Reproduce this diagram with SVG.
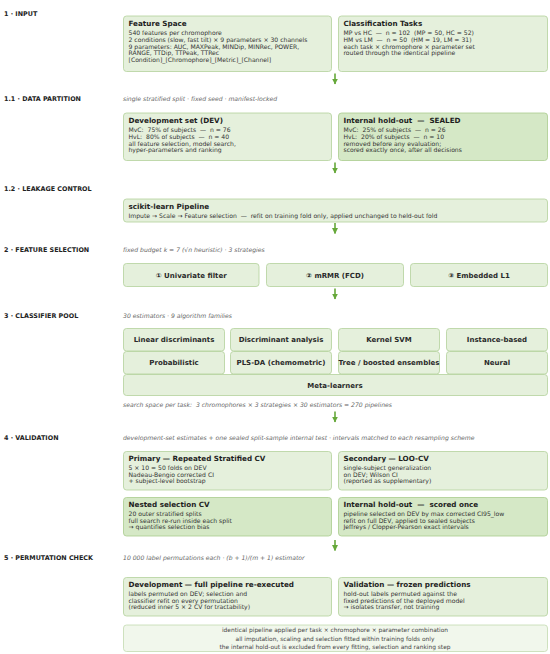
<svg xmlns="http://www.w3.org/2000/svg" width="550" height="654" viewBox="0 0 550 654">
<defs>
<style>
text{font-family:"DejaVu Sans","Liberation Sans",sans-serif;white-space:pre;}
.h{font-size:6.4px;font-weight:bold;fill:#222;}
.sub{font-size:6.1px;font-style:italic;fill:#666;}
.t{font-size:7.2px;font-weight:bold;fill:#1e1e1e;}
.b{font-size:6.1px;fill:#333;}
.c{font-size:7px;font-weight:bold;fill:#2a2a2a;text-anchor:middle;}
.n{font-size:5.9px;fill:#444;text-anchor:middle;}
.box{fill:#e5f0dc;stroke:#b3d19a;stroke-width:0.8;}
.dark{fill:#d5e8c6;stroke:#a9cb8e;stroke-width:0.8;}
.note{fill:#f1f7ec;stroke:#c3dbb0;stroke-width:0.8;}
.arr{stroke:#66a83a;stroke-width:1.6;fill:none;}
</style>
<marker id="ah" viewBox="0 0 10 10" refX="9" refY="5" markerWidth="6" markerHeight="6" orient="auto" markerUnits="userSpaceOnUse">
<path d="M0,0 L10,5 L0,10 Z" fill="#66a83a"/>
</marker>
</defs>
<rect width="550" height="654" fill="#ffffff"/>

<g id="headings">
<text class="h" x="4" y="16">1 · INPUT</text>
<text class="h" x="4" y="101">1.1 · DATA PARTITION</text>
<text class="sub" x="123" y="101">single stratified split · fixed seed · manifest-locked</text>
<text class="h" x="4" y="191">1.2 · LEAKAGE CONTROL</text>
<text class="h" x="4" y="251.5">2 · FEATURE SELECTION</text>
<text class="sub" x="123" y="251.5">fixed budget k = 7 (√n heuristic) · 3 strategies</text>
<text class="h" x="4" y="317.5">3 · CLASSIFIER POOL</text>
<text class="sub" x="123" y="317.5">30 estimators · 9 algorithm families</text>
<text class="sub" x="123" y="407">search space per task:  3 chromophores × 3 strategies × 30 estimators = 270 pipelines</text>
<text class="h" x="4" y="440">4 · VALIDATION</text>
<text class="sub" x="123" y="440">development-set estimates + one sealed split-sample internal test · intervals matched to each resampling scheme</text>
<text class="h" x="4" y="560">5 · PERMUTATION CHECK</text>
<text class="sub" x="123" y="560">10 000 label permutations each · (b + 1)/(m + 1) estimator</text>
</g>

<g id="feature-space">
<rect class="box" x="123.5" y="16" width="208" height="55.5" rx="3"/>
<text class="t" x="128.5" y="26">Feature Space</text>
<text class="b" x="128.5" y="35.3">540 features per chromophore</text>
<text class="b" x="128.5" y="42">2 conditions (slow, fast tilt) × 9 parameters × 30 channels</text>
<text class="b" x="128.5" y="48.7">9 parameters: AUC, MAXPeak, MINDip, MINRec, POWER,</text>
<text class="b" x="128.5" y="55.4">RANGE, TTDip, TTPeak, TTRec</text>
<text class="b" x="128.5" y="62.1">[Condition]_[Chromophore]_[Metric]_[Channel]</text>
</g>

<g id="classification-tasks">
<rect class="box" x="338.5" y="16" width="209" height="55.5" rx="3"/>
<text class="t" x="343.5" y="26">Classification Tasks</text>
<text class="b" x="343.5" y="35.3">MP vs HC  —  n = 102  (MP = 50, HC = 52)</text>
<text class="b" x="343.5" y="42">HM vs LM  —  n = 50  (HM = 19, LM = 31)</text>
<text class="b" x="343.5" y="48.7">each task × chromophore × parameter set</text>
<text class="b" x="343.5" y="55.4">routed through the identical pipeline</text>
</g>

<g id="dev-set">
<rect class="box" x="123.5" y="113" width="208" height="47.5" rx="3"/>
<text class="t" x="128.5" y="123">Development set (DEV)</text>
<text class="b" x="128.5" y="132.3">MvC:  75% of subjects  —  n = 76</text>
<text class="b" x="128.5" y="139">HvL:  80% of subjects  —  n = 40</text>
<text class="b" x="128.5" y="145.7">all feature selection, model search,</text>
<text class="b" x="128.5" y="152.4">hyper-parameters and ranking</text>
</g>

<g id="holdout-sealed">
<rect class="dark" x="338.5" y="113" width="209" height="47.5" rx="3"/>
<text class="t" x="343.5" y="123">Internal hold-out  —  SEALED</text>
<text class="b" x="343.5" y="132.3">MvC:  25% of subjects  —  n = 26</text>
<text class="b" x="343.5" y="139">HvL:  20% of subjects  —  n = 10</text>
<text class="b" x="343.5" y="145.7">removed before any evaluation;</text>
<text class="b" x="343.5" y="152.4">scored exactly once, after all decisions</text>
</g>

<g id="pipeline">
<rect class="box" x="123.5" y="199" width="424" height="23" rx="3"/>
<text class="t" x="128.5" y="209">scikit-learn Pipeline</text>
<text class="b" x="128.5" y="218">Impute → Scale → Feature selection  —  refit on training fold only, applied unchanged to held-out fold</text>
</g>

<g id="fs-univariate">
<rect class="box" x="123.5" y="263.5" width="135.5" height="23" rx="3"/>
<text class="c" x="191.2" y="277.5">① Univariate filter</text>
</g>
<g id="fs-mrmr">
<rect class="box" x="266.5" y="263.5" width="137" height="23" rx="3"/>
<text class="c" x="335" y="277.5">② mRMR (FCD)</text>
</g>
<g id="fs-embedded">
<rect class="box" x="410.5" y="263.5" width="137" height="23" rx="3"/>
<text class="c" x="479" y="277.5">③ Embedded L1</text>
</g>

<g id="clf-linear"><rect class="box" x="123.5" y="328.5" width="101" height="22.5" rx="3"/><text class="c" x="174" y="342">Linear discriminants</text></g>
<g id="clf-da"><rect class="box" x="230.5" y="328.5" width="101" height="22.5" rx="3"/><text class="c" x="281" y="342">Discriminant analysis</text></g>
<g id="clf-svm"><rect class="box" x="338.5" y="328.5" width="101" height="22.5" rx="3"/><text class="c" x="389" y="342">Kernel SVM</text></g>
<g id="clf-instance"><rect class="box" x="446.5" y="328.5" width="101" height="22.5" rx="3"/><text class="c" x="497" y="342">Instance-based</text></g>
<g id="clf-prob"><rect class="box" x="123.5" y="351.5" width="101" height="22.5" rx="3"/><text class="c" x="174" y="365">Probabilistic</text></g>
<g id="clf-pls"><rect class="box" x="230.5" y="351.5" width="101" height="22.5" rx="3"/><text class="c" x="281" y="365">PLS-DA (chemometric)</text></g>
<g id="clf-tree"><rect class="box" x="338.5" y="351.5" width="101" height="22.5" rx="3"/><text class="c" x="389" y="365">Tree / boosted ensembles</text></g>
<g id="clf-neural"><rect class="box" x="446.5" y="351.5" width="101" height="22.5" rx="3"/><text class="c" x="497" y="365">Neural</text></g>
<g id="clf-meta"><rect class="box" x="123.5" y="374.5" width="424" height="21" rx="3"/><text class="c" x="335" y="387.5">Meta-learners</text></g>

<g id="primary-cv">
<rect class="box" x="123.5" y="451.5" width="208" height="38.5" rx="3"/>
<text class="t" x="128.5" y="461.3">Primary — Repeated Stratified CV</text>
<text class="b" x="128.5" y="470">5 × 10 = 50 folds on DEV</text>
<text class="b" x="128.5" y="476.7">Nadeau-Bengio corrected CI</text>
<text class="b" x="128.5" y="483.4">+ subject-level bootstrap</text>
</g>
<g id="secondary-loo">
<rect class="box" x="338.5" y="451.5" width="209" height="38.5" rx="3"/>
<text class="t" x="343.5" y="461.3">Secondary — LOO-CV</text>
<text class="b" x="343.5" y="470">single-subject generalization</text>
<text class="b" x="343.5" y="476.7">on DEV; Wilson CI</text>
<text class="b" x="343.5" y="483.4">(reported as supplementary)</text>
</g>
<g id="nested-cv">
<rect class="dark" x="123.5" y="497.5" width="208" height="38.5" rx="3"/>
<text class="t" x="128.5" y="507.3">Nested selection CV</text>
<text class="b" x="128.5" y="516">20 outer stratified splits</text>
<text class="b" x="128.5" y="522.7">full search re-run inside each split</text>
<text class="b" x="128.5" y="529.4">→ quantifies selection bias</text>
</g>
<g id="holdout-scored">
<rect class="dark" x="338.5" y="497.5" width="209" height="38.5" rx="3"/>
<text class="t" x="343.5" y="507.3">Internal hold-out  —  scored once</text>
<text class="b" x="343.5" y="516">pipeline selected on DEV by max corrected CI95_low</text>
<text class="b" x="343.5" y="522.7">refit on full DEV, applied to sealed subjects</text>
<text class="b" x="343.5" y="529.4">Jeffreys / Clopper-Pearson exact intervals</text>
</g>

<g id="perm-dev">
<rect class="box" x="123.5" y="577.5" width="208" height="38.5" rx="3"/>
<text class="t" x="128.5" y="587.3">Development — full pipeline re-executed</text>
<text class="b" x="128.5" y="596">labels permuted on DEV; selection and</text>
<text class="b" x="128.5" y="602.7">classifier refit on every permutation</text>
<text class="b" x="128.5" y="609.4">(reduced inner 5 × 2 CV for tractability)</text>
</g>
<g id="perm-val">
<rect class="box" x="338.5" y="577.5" width="209" height="38.5" rx="3"/>
<text class="t" x="343.5" y="587.3">Validation — frozen predictions</text>
<text class="b" x="343.5" y="596">hold-out labels permuted against the</text>
<text class="b" x="343.5" y="602.7">fixed predictions of the deployed model</text>
<text class="b" x="343.5" y="609.4">→ isolates transfer, not training</text>
</g>

<g id="note">
<rect class="note" x="123.5" y="625" width="424" height="26.5" rx="3"/>
<text class="n" x="335" y="632">identical pipeline applied per task × chromophore × parameter combination</text>
<text class="n" x="335" y="640.5">all imputation, scaling and selection fitted within training folds only</text>
<text class="n" x="335" y="649">the internal hold-out is excluded from every fitting, selection and ranking step</text>
</g>

<g id="connectors">
<line class="arr" x1="335" y1="73.5" x2="335" y2="84" marker-end="url(#ah)"/>
<line class="arr" x1="335" y1="162.5" x2="335" y2="173" marker-end="url(#ah)"/>
<line class="arr" x1="335" y1="223" x2="335" y2="233.5" marker-end="url(#ah)"/>
<line class="arr" x1="335" y1="288.5" x2="335" y2="299" marker-end="url(#ah)"/>
<line class="arr" x1="335" y1="411.5" x2="335" y2="422" marker-end="url(#ah)"/>
<line class="arr" x1="335" y1="540" x2="335" y2="550.5" marker-end="url(#ah)"/>
</g>
</svg>
